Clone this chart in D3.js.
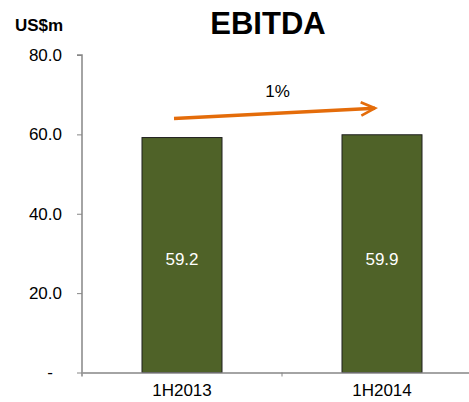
<!DOCTYPE html>
<html>
<head>
<meta charset="utf-8">
<script src="https://cdn.jsdelivr.net/npm/d3@7"></script>
<style>
  body { margin: 0; background: #fff; }
  svg { display: block; font-family: Arial, "Liberation Sans", sans-serif; }
</style>
</head>
<body>
<div id="chart"></div>
<script>
// chart data
const categories = ["1H2013", "1H2014"];
const values = [59.2, 59.9];
const yTicks = [0, 20, 40, 60, 80];
const growthLabel = "1%";
// arrow annotation, in data units (start/end heights)
const arrowFrom = 64.0;
const arrowTo = 66.6;

const width = 469, height = 402;
const margin = { top: 55, right: -13, bottom: 29.5, left: 82 };

const svg = d3.select("#chart").append("svg")
    .attr("width", width)
    .attr("height", height);

const x = d3.scaleBand()
    .domain(categories)
    .range([margin.left, width - margin.right])
    .paddingInner(0.6)
    .paddingOuter(0.3);

const y = d3.scaleLinear()
    .domain([0, 80])
    .range([height - margin.bottom, margin.top]);

const axisColor = "#868686";
const fs = "17px";

// title
svg.append("text")
    .attr("x", 268).attr("y", 34)
    .attr("text-anchor", "middle")
    .style("font-size", "31px").style("font-weight", "bold")
    .text("EBITDA");

svg.append("text")
    .attr("x", 15).attr("y", 31)
    .style("font-size", "17px").style("font-weight", "bold")
    .text("US$m");

// bars
svg.selectAll("rect.bar")
    .data(values)
    .enter().append("rect")
    .attr("class", "bar")
    .attr("x", (d, i) => x(categories[i]))
    .attr("y", d => y(d))
    .attr("width", x.bandwidth())
    .attr("height", d => y(0) - y(d))
    .attr("fill", "#4F6228")
    .attr("stroke", "#1f1f1f")
    .attr("stroke-width", 1);

svg.selectAll("text.val")
    .data(values)
    .enter().append("text")
    .attr("class", "val")
    .attr("x", (d, i) => x(categories[i]) + x.bandwidth() / 2)
    .attr("y", 265)
    .attr("text-anchor", "middle")
    .style("font-size", fs)
    .style("fill", "#fff")
    .text(d => d.toFixed(1));

// y axis
const yAxis = svg.append("g")
    .attr("transform", `translate(${margin.left},0)`)
    .call(d3.axisLeft(y).tickValues(yTicks).tickSize(5).tickPadding(15)
        .tickFormat(d => d === 0 ? "-" : d.toFixed(1)));
yAxis.select(".domain").attr("stroke", axisColor).attr("stroke-width", 1.5)
    .attr("d", `M-5,${y(80)}H0V${y(0) + 4}`);
yAxis.selectAll(".tick line").attr("stroke", axisColor);
yAxis.selectAll(".tick text").style("font-size", fs).style("fill", "#000");
// accounting style dash for zero sits further left
yAxis.selectAll(".tick text").filter(d => d === 0).attr("x", -29);

// x axis
const xAxis = svg.append("g")
    .attr("transform", `translate(0,${y(0)})`)
    .call(d3.axisBottom(x).tickSize(0).tickPadding(11));
xAxis.select(".domain").attr("stroke", axisColor).attr("stroke-width", 1.5);
xAxis.selectAll(".tick text").style("font-size", fs).style("fill", "#000");
// category separator tick
xAxis.append("line")
    .attr("x1", x(categories[1]) - x.step() * x.paddingInner() / 2)
    .attr("x2", x(categories[1]) - x.step() * x.paddingInner() / 2)
    .attr("y1", 0).attr("y2", 4)
    .attr("stroke", axisColor);

// growth arrow
const defs = svg.append("defs");
defs.append("marker")
    .attr("id", "head")
    .attr("viewBox", "0 0 10 10")
    .attr("refX", 8.5).attr("refY", 5)
    .attr("markerWidth", 5).attr("markerHeight", 5)
    .attr("orient", "auto")
    .append("path")
    .attr("d", "M0.5,1.2L8.5,5L0.5,8.8")
    .attr("fill", "none")
    .attr("stroke", "#E46C0A")
    .attr("stroke-width", 1.5);

const ax1 = x(categories[0]) + x.bandwidth() / 2 - 8;
const ax2 = x(categories[1]) + x.bandwidth() / 2 - 7;
svg.append("line")
    .attr("x1", ax1).attr("y1", y(arrowFrom))
    .attr("x2", ax2).attr("y2", y(arrowTo))
    .attr("stroke", "#E46C0A")
    .attr("stroke-width", 3.5)
    .attr("marker-end", "url(#head)");

svg.append("text")
    .attr("x", (ax1 + ax2) / 2 + 3).attr("y", 97)
    .attr("text-anchor", "middle")
    .style("font-size", fs)
    .text(growthLabel);
</script>
</body>
</html>
